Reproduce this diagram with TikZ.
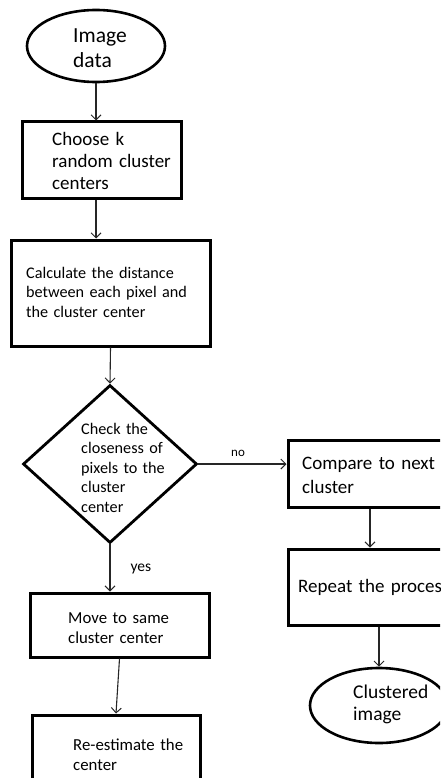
\documentclass[tikz,border=0pt]{standalone}
\usepackage{fontspec}
\setmainfont{Carlito}
\usetikzlibrary{shapes.geometric,arrows.meta}
\begin{document}
\begin{tikzpicture}[x=1pt,y=-1pt,
  box/.style={draw,line width=3pt,rectangle,inner sep=0pt},
  term/.style={draw,line width=2.6pt,ellipse,inner sep=0pt},
  dec/.style={draw,line width=2.8pt,diamond,inner sep=0pt},
  txt/.style={anchor=base west,inner sep=0pt,align=left,text width=200pt},
  conn/.style={line width=1.1pt,draw=black!85,-{Straight Barb[length=5pt,width=10pt,line width=1pt]}}]
\useasboundingbox (0,0) rectangle (440,778);
\clip (0,0) rectangle (440,778);
% shapes
\node[term,minimum width=138pt,minimum height=72pt] (start) at (96,46) {};
\node[box,minimum width=159pt,minimum height=76pt] (choose) at (101.5,160) {};
\node[box,minimum width=199pt,minimum height=106pt] (calc) at (110.5,293) {};
\node[dec,minimum width=174pt,minimum height=158pt] (check) at (110,464) {};
\node[box,minimum width=164pt,minimum height=67pt] (compare) at (370,473.5) {};
\node[box,minimum width=164pt,minimum height=76pt] (repeat) at (370,587) {};
\node[term,minimum width=138pt,minimum height=75pt] (clustered) at (379,705.5) {};
\node[box,minimum width=179pt,minimum height=64pt] (move) at (119.5,625) {};
\node[box,minimum width=168pt,minimum height=100pt] (reest) at (116,765) {};
% texts
\node[txt,font=\fontsize{21.5}{25}\selectfont] (tstart) at (73,43) {Image\\data};
\node[txt,font=\fontsize{19}{22}\selectfont] (tchoose) at (52,146) {Choose k\\random cluster\\centers};
\node[txt,font=\fontsize{16.2}{19.5}\selectfont] (tcalc) at (26,278) {Calculate the distance\\between each pixel and\\the cluster center};
\node[txt,font=\fontsize{16.2}{19.5}\selectfont] (tcheck) at (81,434) {Check the\\closeness of\\pixels to the\\cluster\\center};
\node[txt,font=\fontsize{19}{24}\selectfont] (tcompare) at (302,469) {Compare to next\\cluster};
\node[txt,font=\fontsize{19}{24}\selectfont] (trepeat) at (298,592) {Repeat the process};
\node[txt,font=\fontsize{19.5}{22}\selectfont] (tclustered) at (353,698) {Clustered\\image};
\node[txt,font=\fontsize{16.8}{20}\selectfont] (tmove) at (68,623) {Move to same\\cluster center};
\node[txt,font=\fontsize{16.8}{20}\selectfont] (treest) at (73,750) {Re-estimate the\\center};
% connectors
\draw[conn] (start.south) -- (choose.north -| start.south);
\draw[conn] (choose.south -| start.south) -- (calc.north -| start.south);
\draw[conn] (calc.south) -- (check.north);
\draw[conn] (check.east) -- (check.east -| compare.west) node[pos=0.45,anchor=base,inner sep=0pt,yshift=8pt,font=\fontsize{13}{15}\selectfont] (no) {no};
\draw[conn] (check.south) -- (check.south |- move.north) node[pos=0.5,anchor=base west,inner sep=0pt,xshift=20pt,yshift=-4pt,font=\fontsize{15.5}{18}\selectfont] (yes) {yes};
\draw[conn] (move.south) -- (reest.north);
\draw[conn] (compare.south) -- (repeat.north);
\draw[conn] (repeat.south -| clustered.north) -- (clustered.north);
\end{tikzpicture}
\end{document}
